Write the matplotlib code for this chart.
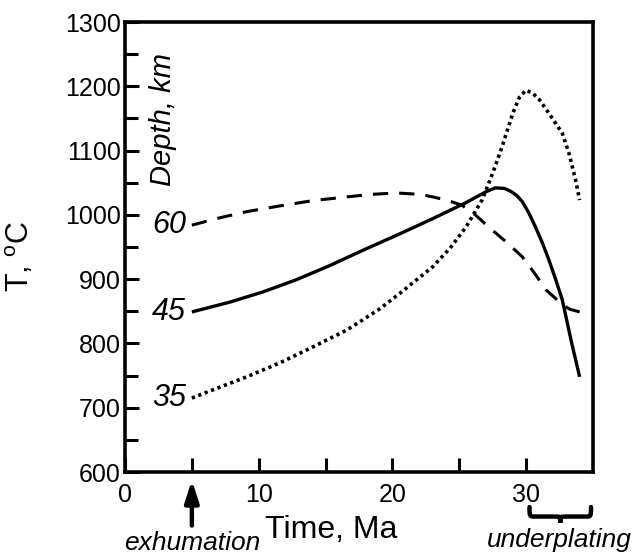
import matplotlib
matplotlib.use("Agg")
import matplotlib.pyplot as plt
from matplotlib.path import Path
from matplotlib.patches import PathPatch
import matplotlib.transforms as mtransforms

plt.rcParams['font.family'] = ['Liberation Sans', 'DejaVu Sans']

# Data
t60 = [5.0, 7.0, 9.1, 11.6, 14.0, 16.6, 18.5, 20.3, 22.0, 23.0, 24.2, 25.2, 26.2, 27.2, 28.5, 29.7, 30.6, 31.5, 32.2, 32.7, 33.3, 34.0]
T60 = [984, 995, 1005, 1014, 1022, 1028, 1032, 1034, 1032, 1028, 1022, 1015, 1000, 981, 958, 935, 910, 883, 870, 860, 853, 849]

t45 = [5.0, 7.8, 10.3, 12.8, 15.3, 17.8, 20.5, 23.0, 25.5, 27.0, 27.7, 28.4, 28.9, 29.3, 29.7, 30.2, 30.7, 31.2, 31.7, 32.2, 32.7, 33.4, 34.0]
T45 = [849, 864, 880, 899, 921, 945, 970, 994, 1019, 1036, 1042, 1041, 1036, 1030, 1021, 1003, 981, 957, 930, 900, 868, 801, 748]

t35 = [5.0, 6.6, 9.1, 11.6, 14.0, 16.6, 19.0, 20.5, 23.0, 24.3, 25.5, 26.7, 27.5, 28.2, 29.0, 29.5, 30.0, 30.5, 31.0, 31.9, 32.7, 33.2, 33.7, 34.0]
T35 = [715, 728, 748, 770, 794, 821, 853, 877, 919, 948, 981, 1023, 1065, 1106, 1158, 1183, 1194, 1189, 1179, 1152, 1127, 1096, 1054, 1023]

depth_labels = ['60', '45', '35']
depth_label_T = [984, 849, 715]

xticks = [0, 5, 10, 15, 20, 25, 30]
xticklabels = ['0', '', '10', '', '20', '', '30']
yticks = [600, 700, 800, 900, 1000, 1100, 1200, 1300]
yminor = [650, 750, 850, 950, 1050, 1150, 1250]

fig = plt.figure(figsize=(6.42, 5.57), dpi=100)
ax = fig.add_axes([0.1947, 0.1526, 0.729, 0.8079])

ax.plot(t60, T60, color='black', lw=2.2, linestyle=(0, (5.0, 3.6)))
ax.plot(t45, T45, color='black', lw=2.4, solid_capstyle='butt', solid_joinstyle='round')
ax.plot(t35, T35, color='black', lw=2.6, linestyle=(0, (0.9, 1.0)))

for lab, yv in zip(depth_labels, depth_label_T):
    ax.text(4.55, yv, lab, ha='right', va='center', fontsize=22, style='italic')

ax.text(2.85, 1148, 'Depth, km', rotation=90, ha='center', va='center',
        fontsize=21, style='italic')

ax.set_xlim(0, 35)
ax.set_ylim(600, 1300)
ax.set_xticks(xticks)
ax.set_xticklabels(xticklabels)
ax.set_yticks(yticks)
ax.set_yticks(yminor, minor=True)
ax.tick_params(axis='both', which='both', direction='in', width=2.2, length=10,
               labelsize=18)
ax.tick_params(axis='y', which='minor', length=9)
ax.tick_params(axis='x', pad=8)
ax.tick_params(axis='y', pad=3)
for s in ax.spines.values():
    s.set_linewidth(2.6)

ax.set_xlabel('Time, Ma', fontsize=23)
ax.xaxis.set_label_coords(0.44, -0.095)
ax.set_ylabel('T, $^{\\mathregular{o}}$C', fontsize=22)
ax.yaxis.set_label_coords(-0.19, 0.48)

tr = mtransforms.blended_transform_factory(ax.transData, ax.transAxes)

# exhumation arrow
ax.annotate('', xy=(5, -0.012), xytext=(5, -0.125),
            xycoords=tr, textcoords=tr,
            arrowprops=dict(arrowstyle='-|>,head_length=1.3,head_width=0.42',
                            color='black', lw=3.2), annotation_clip=False)
ax.text(5, -0.157, 'exhumation', transform=tr,
        ha='center', va='center', fontsize=19, style='italic')

# underplating brace
x0, x1 = 30.25, 34.85
xm = (x0 + x1) / 2
ytop, ymid, ytip = -0.078, -0.099, -0.113
verts = [(x0, ytop), (x0, ymid), (x0, ymid), (x0 + 0.45, ymid),
         (xm - 0.45, ymid),
         (xm, ymid), (xm, ymid), (xm, ytip),
         (xm, ymid), (xm, ymid), (xm + 0.45, ymid),
         (x1 - 0.45, ymid),
         (x1, ymid), (x1, ymid), (x1, ytop)]
codes = [Path.MOVETO, Path.CURVE4, Path.CURVE4, Path.CURVE4,
         Path.LINETO,
         Path.CURVE4, Path.CURVE4, Path.CURVE4,
         Path.CURVE4, Path.CURVE4, Path.CURVE4,
         Path.LINETO,
         Path.CURVE4, Path.CURVE4, Path.CURVE4]
ax.add_patch(PathPatch(Path(verts, codes), transform=tr, fill=False, lw=3.2,
                       color='black', clip_on=False, capstyle='round'))
ax.text(32.5, -0.152, 'underplating', transform=tr, ha='center', va='center',
        fontsize=19, style='italic')

fig.savefig('out.png', dpi=100)
